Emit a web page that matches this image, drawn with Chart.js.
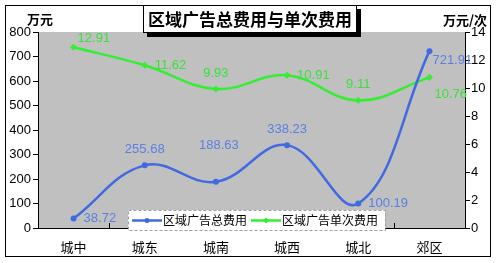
<!DOCTYPE html>
<html>
<head>
<meta charset="utf-8">
<script src="https://cdn.jsdelivr.net/npm/chart.js@4/dist/chart.umd.min.js"></script>
<style>
  html, body { margin: 0; padding: 0; background: #fff; }
  #wrap { width: 498px; height: 263px; }
</style>
</head>
<body>
<div id="wrap"><canvas id="chart" width="498" height="263"></canvas></div>
<script>
// data
const regions = ['城中', '城东', '城南', '城西', '城北', '郊区'];
const totalCost = [38.72, 255.68, 188.63, 338.23, 100.19, 721.91];
const unitCost = [12.91, 11.62, 9.93, 10.91, 9.11, 10.76];
const leftTicks = [0, 100, 200, 300, 400, 500, 600, 700, 800];
const rightTicks = [0, 2, 4, 6, 8, 10, 12, 14];

const titleText = '区域广告总费用与单次费用';
const blue = '#4169e1';
const blueLabel = '#5b7fe3';
const green = '#33ee33';
const greenLabel = '#3ae03a';

// where each value label sits relative to its point
const labelSpots = {
  r:  [10, 0, 'left'],
  ur: [4, -9, 'left'],
  a:  [0, -16, 'center'],
  aa: [3, -36, 'center'],
  br: [5, 17, 'left'],
  br2: [3, 9, 'left']
};
const totalSpots = ['r', 'a', 'aa', 'a', 'r', 'br2'];
const unitSpots = ['ur', 'r', 'a', 'r', 'a', 'br'];

const cnFont = '"Noto Sans CJK SC", sans-serif';
const numFont = '"Liberation Sans", Arial, sans-serif';

const frame = {
  id: 'frame',
  beforeDraw(chart) {
    const { ctx, chartArea: a } = chart;
    ctx.save();
    ctx.fillStyle = '#fff';
    ctx.fillRect(0, 0, chart.width, chart.height);
    ctx.fillStyle = '#c0c0c0';
    ctx.fillRect(a.left, a.top, a.right - a.left, a.bottom - a.top);
    ctx.restore();
  },
  afterDraw(chart) {
    const { ctx, chartArea: a } = chart;
    ctx.save();
    // outer border
    ctx.strokeStyle = '#000';
    ctx.lineWidth = 1;
    ctx.strokeRect(5.5, 5.5, 485, 251);

    // small upward ticks between categories
    const step = (a.right - a.left) / regions.length;
    ctx.beginPath();
    for (let i = 1; i < regions.length; i++) {
      const x = Math.round(a.left + i * step) + 0.5;
      ctx.moveTo(x, a.bottom);
      ctx.lineTo(x, a.bottom - 5);
    }
    ctx.stroke();

    // axis unit titles
    ctx.fillStyle = '#000';
    ctx.font = 'bold 13px ' + cnFont;
    ctx.textBaseline = 'middle';
    ctx.textAlign = 'center';
    ctx.fillText('万元', 40, 19);
    ctx.fillText('万元/次', 465, 20);

    // value labels
    ctx.font = '13px ' + numFont;
    const drawLabels = (dsIndex, values, spots, color) => {
      const meta = chart.getDatasetMeta(dsIndex);
      ctx.fillStyle = color;
      meta.data.forEach((pt, i) => {
        const s = labelSpots[spots[i]];
        ctx.textAlign = s[2];
        ctx.fillText(values[i].toFixed(2), pt.x + s[0], pt.y + s[1]);
      });
    };
    drawLabels(0, totalCost, totalSpots, blueLabel);
    drawLabels(1, unitCost, unitSpots, greenLabel);

    // legend box
    const lx = 128, ly = 210, lw = 257, lh = 20;
    ctx.fillStyle = '#fff';
    ctx.fillRect(lx, ly, lw, lh);
    ctx.setLineDash([3, 2]);
    ctx.strokeStyle = '#a0a0a0';
    ctx.strokeRect(lx + 0.5, ly + 0.5, lw, lh);
    ctx.setLineDash([]);
    const item = (x0, color, text, diamond) => {
      const cy = ly + 10.5;
      ctx.strokeStyle = color;
      ctx.lineWidth = 2.5;
      ctx.beginPath();
      ctx.moveTo(x0, cy);
      ctx.lineTo(x0 + 30, cy);
      ctx.stroke();
      ctx.fillStyle = color;
      ctx.beginPath();
      if (diamond) {
        ctx.moveTo(x0 + 15, cy - 3); ctx.lineTo(x0 + 18, cy);
        ctx.lineTo(x0 + 15, cy + 3); ctx.lineTo(x0 + 12, cy);
      } else {
        ctx.arc(x0 + 15, cy, 2.5, 0, Math.PI * 2);
      }
      ctx.fill();
      ctx.fillStyle = '#000';
      ctx.font = '12px ' + cnFont;
      ctx.textAlign = 'left';
      ctx.fillText(text, x0 + 31, cy);
    };
    item(132, blue, '区域广告总费用', false);
    item(251, green, '区域广告单次费用', true);

    // title box with shadow
    ctx.fillStyle = '#000';
    ctx.fillRect(147, 9, 214, 28);
    ctx.fillStyle = '#fff';
    ctx.fillRect(143, 5, 214, 28);
    ctx.lineWidth = 1;
    ctx.strokeStyle = '#000';
    ctx.strokeRect(143.5, 5.5, 213, 27);
    ctx.fillStyle = '#000';
    ctx.font = 'bold 17px ' + cnFont;
    ctx.textAlign = 'center';
    ctx.fillText(titleText, 250, 20);
    ctx.restore();
  }
};

new Chart(document.getElementById('chart'), {
  type: 'line',
  data: {
    labels: regions,
    datasets: [
      {
        label: '区域广告总费用',
        data: totalCost,
        yAxisID: 'y',
        borderColor: blue,
        backgroundColor: blue,
        borderWidth: 2.5,
        tension: 0.4,
        pointRadius: 3,
        pointStyle: 'circle',
        pointBorderWidth: 0
      },
      {
        label: '区域广告单次费用',
        data: unitCost,
        yAxisID: 'y1',
        borderColor: green,
        backgroundColor: green,
        borderWidth: 2.5,
        tension: 0.4,
        pointRadius: 3.5,
        pointStyle: 'rectRot',
        pointBorderWidth: 0
      }
    ]
  },
  options: {
    responsive: false,
    animation: false,
    layout: { padding: { top: 32, left: 0, right: 0, bottom: 0 } },
    plugins: {
      legend: { display: false },
      title: { display: false },
      tooltip: { enabled: false }
    },
    scales: {
      x: {
        offset: true,
        grid: { display: false, drawTicks: false },
        border: { color: '#000', width: 1 },
        ticks: { padding: 11, color: '#000', font: { family: cnFont, size: 13 } },
        afterFit(s) { s.height = 35; }
      },
      y: {
        position: 'left',
        min: 0,
        max: 800,
        afterBuildTicks(s) { s.ticks = leftTicks.map(v => ({ value: v })); },
        grid: { drawOnChartArea: false, tickLength: 5, color: '#000' },
        border: { color: '#000', width: 1 },
        ticks: { padding: 2, color: '#000', font: { family: numFont, size: 13 } },
        afterFit(s) { s.width = 38; }
      },
      y1: {
        position: 'right',
        min: 0,
        max: 14,
        afterBuildTicks(s) { s.ticks = rightTicks.map(v => ({ value: v })); },
        grid: { drawOnChartArea: false, tickLength: 5, color: '#000' },
        border: { color: '#000', width: 1 },
        ticks: { padding: 1, color: '#000', font: { family: numFont, size: 13 } },
        afterFit(s) { s.width = 33; }
      }
    }
  },
  plugins: [frame]
});
</script>
</body>
</html>
